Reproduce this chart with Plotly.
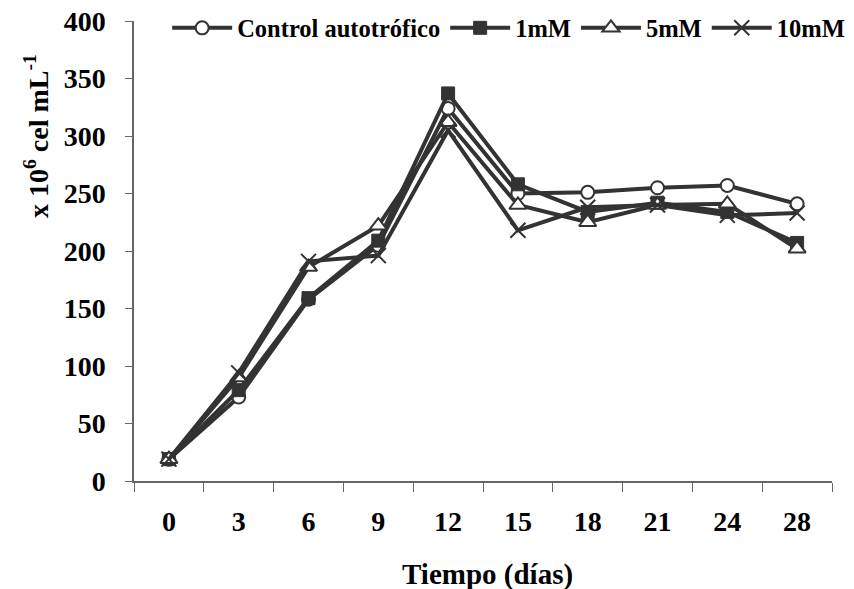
import plotly.graph_objects as go

days = ["0", "3", "6", "9", "12", "15", "18", "21", "24", "28"]
control = [19, 73, 158, 205, 324, 250, 251, 255, 257, 241]
mm1 = [19, 79, 159, 209, 337, 258, 234, 242, 234, 207]
mm5 = [19, 90, 186, 222, 312, 240, 225, 240, 241, 202]
mm10 = [19, 94, 191, 196, 305, 218, 238, 240, 231, 233]

dark = "#333333"
axis_col = "#666666"
font_family = "Liberation Serif, Times New Roman, serif"

fig = go.Figure()

series = [
    ("Control autotrófico", control, dict(symbol="circle", color="white", size=13, line=dict(color=dark, width=2))),
    ("1mM", mm1, dict(symbol="square", color=dark, size=13, line=dict(color=dark, width=1))),
    ("5mM", mm5, dict(symbol="triangle-up", color="white", size=15, line=dict(color=dark, width=2))),
    ("10mM", mm10, dict(symbol="x-thin", color=dark, size=15, line=dict(color=dark, width=2))),
]

for name, vals, mk in series:
    fig.add_trace(go.Scatter(
        x=days, y=vals, name=name, mode="lines+markers",
        line=dict(color=dark, width=4),
        marker=mk,
    ))

fig.update_layout(
    width=854, height=589,
    margin=dict(l=134, r=22, t=21, b=108, autoexpand=False),
    paper_bgcolor="white", plot_bgcolor="white",
    font=dict(family=font_family, size=28, color="black", weight="bold"),
    showlegend=True,
    legend=dict(
        orientation="h", x=0.0475, y=0.985, xanchor="left", yanchor="middle",
        font=dict(family=font_family, size=24.5, color="black", weight="bold"),
        bgcolor="rgba(0,0,0,0)", itemwidth=60,
    ),
    xaxis=dict(
        type="category", range=[-0.5, len(days) - 0.5],
        showline=True, linecolor=axis_col, linewidth=1.5,
        ticks="outside", tickson="boundaries", ticklen=9, tickcolor=axis_col,
        tickwidth=1, showgrid=False, zeroline=False,
        ticklabelstandoff=15, ticklabeloverflow="allow",
        tickfont=dict(family=font_family, size=28, color="black", weight="bold"),
    ),
    yaxis=dict(
        range=[0, 400], dtick=50, showline=True, linecolor=axis_col, linewidth=1.5,
        ticks="outside", ticklen=7, tickcolor=axis_col, tickwidth=1,
        showgrid=False, zeroline=False, ticklabelstandoff=14,
        ticklabeloverflow="allow",
        tickfont=dict(family=font_family, size=28, color="black", weight="bold"),
    ),
    annotations=[
        dict(text="Tiempo (días)", xref="paper", yref="paper",
             x=0.506, y=-0.2022, xanchor="center", yanchor="middle", showarrow=False,
             font=dict(family=font_family, size=29, color="black", weight="bold")),
        dict(text="x 10<sup>6</sup> cel mL<sup>-1</sup>", xref="paper", yref="paper",
             x=-0.1404, y=0.75, xanchor="center", yanchor="middle", showarrow=False,
             textangle=-90,
             font=dict(family=font_family, size=28, color="black", weight="bold")),
    ],
)

fig.write_html(
    "out.html",
    config={"displayModeBar": False},
    post_script="document.body.style.margin='0';document.body.style.overflow='hidden';",
)
